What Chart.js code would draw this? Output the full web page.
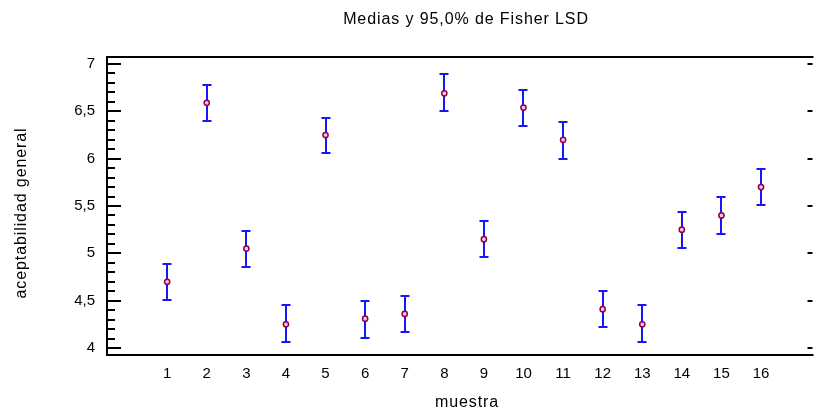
<!DOCTYPE html>
<html>
<head>
<meta charset="utf-8">
<script src="https://cdn.jsdelivr.net/npm/chart.js@4.4.1/dist/chart.umd.min.js"></script>
<style>
  html, body { margin: 0; padding: 0; background: #fff; }
  #wrap { width: 818px; height: 411px; }
</style>
</head>
<body>
<div id="wrap"><canvas id="grafico" width="818" height="411"></canvas></div>
<script>
// Muestras evaluadas y medias de aceptabilidad con su intervalo LSD de Fisher (95 %)
const muestras = [1, 2, 3, 4, 5, 6, 7, 8, 9, 10, 11, 12, 13, 14, 15, 16];
const medias = [4.70, 6.59, 5.05, 4.25, 6.25, 4.31, 4.36, 6.69, 5.15, 6.54, 6.20, 4.41, 4.25, 5.25, 5.40, 5.70];
const limiteInferior = [4.51, 6.40, 4.86, 4.06, 6.06, 4.11, 4.17, 6.50, 4.96, 6.35, 6.00, 4.22, 4.06, 5.06, 5.20, 5.51];
const limiteSuperior = [4.89, 6.78, 5.24, 4.45, 6.43, 4.50, 4.55, 6.89, 5.34, 6.73, 6.39, 4.60, 4.45, 5.44, 5.59, 5.89];
const marcasY = [4, 4.5, 5, 5.5, 6, 6.5, 7];
const marcasMenoresY = [4.1, 4.2, 4.3, 4.4, 4.6, 4.7, 4.8, 4.9, 5.1, 5.2, 5.3, 5.4, 5.6, 5.7, 5.8, 5.9,
                        6.1, 6.2, 6.3, 6.4, 6.6, 6.7, 6.8, 6.9];

const tituloGrafico = 'Medias y 95,0% de Fisher LSD';
const tituloX = 'muestra';
const tituloY = 'aceptabilidad general';

const FUENTE = '"Liberation Sans", Arial, Helvetica, sans-serif';

// Barras de error (intervalos LSD) dibujadas bajo los puntos
const barrasError = {
  id: 'barrasError',
  beforeDatasetsDraw(chart) {
    const { ctx, scales: { x, y } } = chart;
    ctx.save();
    ctx.strokeStyle = '#1515ff';
    ctx.lineWidth = 2;
    const semiAncho = 4.5;
    muestras.forEach((m, i) => {
      const px = Math.round(x.getPixelForValue(m));
      const yA = Math.round(y.getPixelForValue(limiteSuperior[i]));
      const yB = Math.round(y.getPixelForValue(limiteInferior[i]));
      ctx.beginPath();
      ctx.moveTo(px, yA); ctx.lineTo(px, yB);
      ctx.moveTo(px - semiAncho, yA); ctx.lineTo(px + semiAncho, yA);
      ctx.moveTo(px - semiAncho, yB); ctx.lineTo(px + semiAncho, yB);
      ctx.stroke();
    });
    ctx.restore();
  }
};

// Marco del gráfico y marcas del eje Y (principales y secundarias hacia dentro)
const marco = {
  id: 'marco',
  afterDraw(chart) {
    const { ctx, chartArea: a, scales: { y } } = chart;
    const izq = Math.round(a.left);
    ctx.save();
    ctx.fillStyle = '#000';
    // marco: arriba, izquierda y abajo
    ctx.fillRect(izq - 1, Math.round(a.top) - 1, a.right - izq + 2, 2);
    ctx.fillRect(izq - 1, Math.round(a.top) - 1, 2, a.bottom - a.top + 2);
    ctx.fillRect(izq - 1, Math.round(a.bottom) - 1, a.right - izq + 2, 2);

    // marcas secundarias
    marcasMenoresY.forEach(v => {
      const py = Math.round(y.getPixelForValue(v));
      ctx.fillRect(izq, py - 1, 8, 2);
    });
    // marcas principales (izquierda y derecha)
    marcasY.forEach(v => {
      const py = Math.round(y.getPixelForValue(v));
      ctx.fillRect(izq, py - 1, 14, 2);
      ctx.fillRect(a.right - 5, py - 1, 5, 2);
    });
    ctx.restore();
  }
};

// Títulos con un ligero espaciado entre letras
const titulos = {
  id: 'titulos',
  afterDraw(chart) {
    const { ctx } = chart;
    ctx.save();
    ctx.fillStyle = '#000';
    ctx.font = '16px ' + FUENTE;
    if ('letterSpacing' in ctx) ctx.letterSpacing = '0.9px';
    ctx.textAlign = 'center';
    ctx.textBaseline = 'alphabetic';
    ctx.fillText(tituloGrafico, 466, 24);
    ctx.fillText(tituloX, 467, 407);
    ctx.translate(26, 213);
    ctx.rotate(-Math.PI / 2);
    ctx.fillText(tituloY, 0, 0);
    ctx.restore();
  }
};

new Chart(document.getElementById('grafico'), {
  type: 'scatter',
  data: {
    datasets: [{
      label: 'Medias',
      data: muestras.map((m, i) => ({ x: m, y: medias[i] })),
      pointStyle: 'circle',
      pointRadius: 2.6,
      pointBorderWidth: 1.5,
      pointBorderColor: '#8e0048',
      pointBackgroundColor: '#f6c8dd',
      showLine: false
    }]
  },
  options: {
    responsive: false,
    animation: false,
    devicePixelRatio: 1,
    layout: { padding: { top: 57, left: 0, right: 0, bottom: 0 } },
    plugins: {
      legend: { display: false },
      tooltip: { enabled: false },
      title: { display: false }
    },
    scales: {
      x: {
        type: 'linear',
        min: -0.52,
        max: 17.3,
        grid: { display: false, drawTicks: false },
        border: { display: false },
        afterBuildTicks(s) { s.ticks = muestras.map(v => ({ value: v })); },
        afterFit(s) { s.height = 56; },
        ticks: {
          padding: 10,
          color: '#000',
          font: { family: FUENTE, size: 15 },
          maxRotation: 0,
          autoSkip: false,
          callback: v => String(v)
        }
      },
      y: {
        type: 'linear',
        min: 3.926,
        max: 7.074,
        grid: { display: false, drawTicks: false },
        border: { display: false },
        afterBuildTicks(s) { s.ticks = marcasY.map(v => ({ value: v })); },
        afterFit(s) { s.width = 107; },
        ticks: {
          padding: 12,
          color: '#000',
          font: { family: FUENTE, size: 15 },
          callback: v => String(v).replace('.', ',')
        }
      }
    }
  },
  plugins: [barrasError, marco, titulos]
});
</script>
</body>
</html>
